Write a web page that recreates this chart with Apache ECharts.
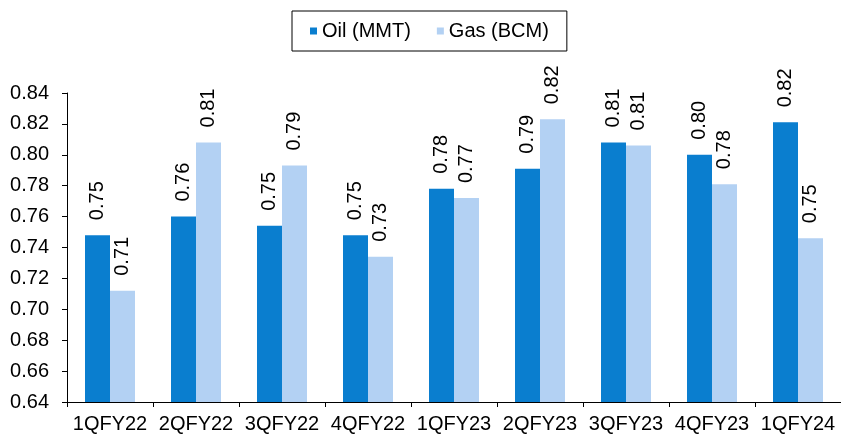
<!DOCTYPE html>
<html>
<head>
<meta charset="utf-8">
<title>Oil and gas production</title>
<script src="https://cdn.jsdelivr.net/npm/echarts@6/dist/echarts.min.js"></script>
<style>
    html, body { margin: 0; padding: 0; background: #fff; }
    #chart { width: 841px; height: 436px; }
</style>
</head>
<body>
<div id="chart"></div>
<script>
// data
var categories = ['1QFY22', '2QFY22', '3QFY22', '4QFY22', '1QFY23', '2QFY23', '3QFY23', '4QFY23', '1QFY24'];
var oilValues = [0.748, 0.760, 0.754, 0.748, 0.778, 0.791, 0.808, 0.800, 0.821];
var gasValues = [0.712, 0.808, 0.793, 0.734, 0.772, 0.823, 0.806, 0.781, 0.746];
var seriesNames = ['Oil (MMT)', 'Gas (BCM)'];
var yMin = 0.64, yMax = 0.84, yStep = 0.02;

(function () {
    var font = 'Liberation Sans, Arial, sans-serif';
    var fs = 20;
    var myChart = echarts.init(document.getElementById('chart'));

    // rotated value label above each bar
    var barLabel = {
        show: true,
        position: 'top',
        rotate: 90,
        align: 'left',
        verticalAlign: 'middle',
        distance: 15,
        color: '#000',
        fontSize: fs,
        fontFamily: font,
        formatter: function (p) {
            return p.value.toFixed(2);
        }
    };

    var option = {
        animation: false,
        color: ['#0a7ecf', '#b3d1f3'],
        textStyle: { fontFamily: font },
        legend: {
            left: 292,
            top: 11,
            padding: [10, 18],
            itemWidth: 7,
            itemHeight: 7,
            itemGap: 26,
            icon: 'rect',
            borderColor: '#000',
            borderWidth: 1,
            textStyle: { color: '#000', fontSize: fs, fontFamily: font },
            data: seriesNames
        },
        grid: {
            left: 67,
            right: 0,
            top: 93,
            bottom: 34,
            containLabel: false
        },
        xAxis: {
            type: 'category',
            data: categories,
            axisLine: { lineStyle: { color: '#000', width: 1 } },
            axisTick: { show: true, length: 5, lineStyle: { color: '#000' } },
            axisLabel: {
                color: '#000',
                fontSize: fs,
                fontFamily: font,
                margin: 12,
                interval: 0
            },
            splitLine: { show: false }
        },
        yAxis: {
            type: 'value',
            min: yMin,
            max: yMax,
            interval: yStep,
            axisLine: { show: true, lineStyle: { color: '#000', width: 1 } },
            axisTick: { show: true, length: 5, lineStyle: { color: '#000' } },
            axisLabel: {
                color: '#000',
                fontSize: fs,
                fontFamily: font,
                margin: 18,
                formatter: function (v) { return v.toFixed(2); }
            },
            splitLine: { show: false }
        },
        series: [
            {
                name: seriesNames[0],
                type: 'bar',
                barWidth: 25,
                barGap: '0%',
                data: oilValues,
                label: barLabel
            },
            {
                name: seriesNames[1],
                type: 'bar',
                barWidth: 25,
                barGap: '0%',
                data: gasValues,
                label: barLabel
            }
        ]
    };

    myChart.setOption(option);
})();
</script>
</body>
</html>
